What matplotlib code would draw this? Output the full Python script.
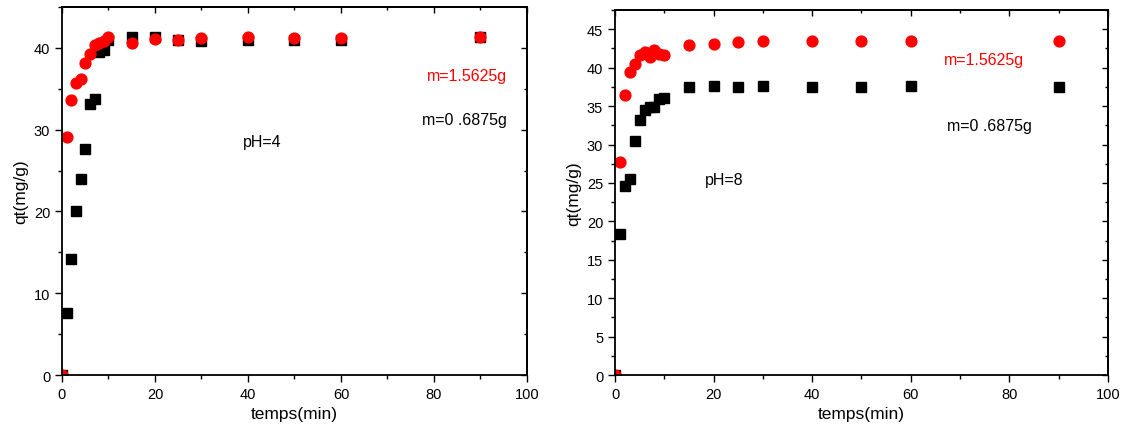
import numpy as np
import matplotlib.pyplot as plt
from matplotlib.ticker import MultipleLocator, NullFormatter

plt.rcParams["font.family"] = ["Liberation Sans", "DejaVu Sans"]

# time points (min)
t = [0, 1, 2, 3, 4, 5, 6, 7, 8, 9, 10, 15, 20, 25, 30, 40, 50, 60, 90]

# pH = 4
ph4_low = [0, 7.6, 14.2, 20.0, 24.0, 27.6, 33.1, 33.7, 39.5, 39.8, 41.0,
           41.3, 41.3, 41.0, 40.9, 41.0, 41.0, 41.0, 41.3]
ph4_high = [0, 29.1, 33.6, 35.7, 36.2, 38.1, 39.2, 40.4, 40.6, 40.9, 41.3,
            40.6, 41.1, 41.0, 41.2, 41.3, 41.2, 41.2, 41.3]

# pH = 8
ph8_low = [0, 18.4, 24.6, 25.5, 30.5, 33.2, 34.5, 34.9, 34.9, 35.9, 36.1,
           37.5, 37.6, 37.5, 37.6, 37.5, 37.5, 37.6, 37.5]
ph8_high = [0, 27.7, 36.5, 39.4, 40.5, 41.6, 42.1, 41.4, 42.3, 41.8, 41.7,
            43.0, 43.1, 43.3, 43.5, 43.5, 43.5, 43.5, 43.5]

fig = plt.figure(figsize=(11.27, 4.35), dpi=100)
ax1 = fig.add_axes([0.055, 0.1356, 0.4126, 0.846])
ax2 = fig.add_axes([0.5457, 0.1356, 0.4374, 0.839])


def style_axis(ax, ymax, ymajor):
    ax.set_xlim(0, 100)
    ax.set_ylim(0, ymax)
    ax.xaxis.set_major_locator(MultipleLocator(20))
    ax.xaxis.set_minor_locator(MultipleLocator(10))
    ax.yaxis.set_major_locator(MultipleLocator(ymajor))
    ax.yaxis.set_minor_locator(MultipleLocator(ymajor / 2))
    ax.tick_params(which="both", direction="out", labelsize=10.5, width=1)
    ax.tick_params(which="major", length=5)
    ax.tick_params(which="minor", length=3)
    for sp in ax.spines.values():
        sp.set_linewidth(1.3)
    ax.set_xlabel("temps(min)", fontsize=12.5)
    ax.set_ylabel("qt(mg/g)", fontsize=12.5)

    # inward ticks on top and right, no labels
    top = ax.secondary_xaxis("top")
    top.xaxis.set_major_locator(MultipleLocator(20))
    top.xaxis.set_minor_locator(MultipleLocator(10))
    top.xaxis.set_major_formatter(NullFormatter())
    top.tick_params(which="both", direction="in", width=1)
    top.tick_params(which="major", length=4)
    top.tick_params(which="minor", length=2)
    top.spines["top"].set_linewidth(1.3)
    right = ax.secondary_yaxis("right")
    right.yaxis.set_major_locator(MultipleLocator(ymajor))
    right.yaxis.set_minor_locator(MultipleLocator(ymajor / 2))
    right.yaxis.set_major_formatter(NullFormatter())
    right.tick_params(which="both", direction="in", width=1)
    right.tick_params(which="major", length=4)
    right.tick_params(which="minor", length=2)
    right.spines["right"].set_linewidth(1.3)


ax1.plot(t, ph4_low, "s", color="black", markersize=6.8)
ax1.plot(t, ph4_high, "o", color="red", markersize=7.8)
style_axis(ax1, 45, 10)
ax1.text(43, 28.5, "pH=4", fontsize=11.5, ha="center", va="center")
ax1.text(95.7, 36.6, "m=1.5625g", fontsize=11.5, color="red", ha="right", va="center")
ax1.text(95.7, 31.2, "m=0 .6875g", fontsize=11.5, color="black", ha="right", va="center")

ax2.plot(t, ph8_low, "s", color="black", markersize=6.8)
ax2.plot(t, ph8_high, "o", color="red", markersize=7.8)
style_axis(ax2, 47.5, 5)
ax2.text(22.1, 25.5, "pH=8", fontsize=11.5, ha="center", va="center")
ax2.text(66.7, 41.1, "m=1.5625g", fontsize=11.5, color="red", ha="left", va="center")
ax2.text(67.3, 32.5, "m=0 .6875g", fontsize=11.5, color="black", ha="left", va="center")

fig.savefig("out.png", dpi=100)
plt.close(fig)
